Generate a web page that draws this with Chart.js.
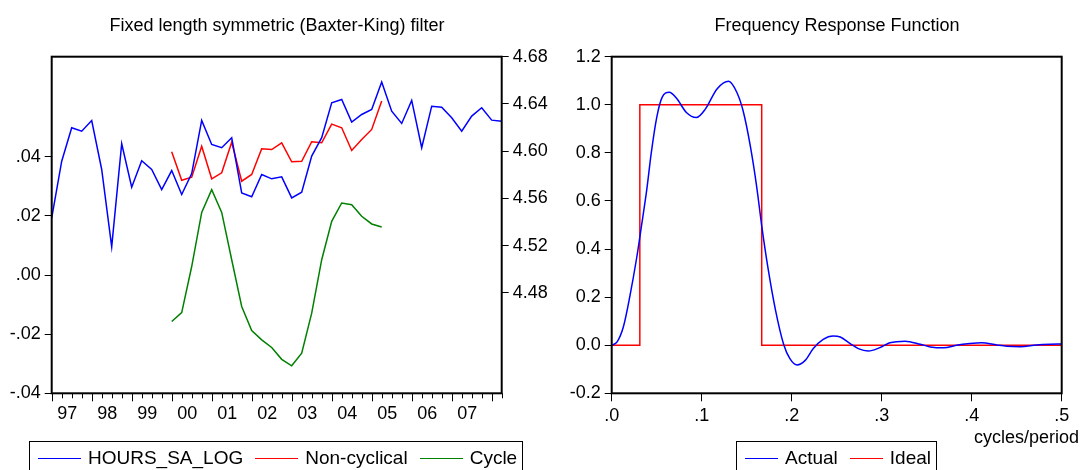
<!DOCTYPE html>
<html>
<head>
<meta charset="utf-8">
<script src="https://cdn.jsdelivr.net/npm/chart.js@4.4.1/dist/chart.umd.min.js"></script>
<style>
  html, body { margin: 0; padding: 0; background: #fff; }
  #page { position: relative; width: 1080px; height: 470px; overflow: hidden; font-family: "Liberation Sans", Arial, sans-serif; color: #000; }
  canvas { position: absolute; left: 0; top: 0; }
  .title { position: absolute; top: 15px; font-size: 18px; line-height: 20px; white-space: nowrap; transform: translateX(-50%); }
  .legend { position: absolute; top: 441px; height: 40px; box-sizing: border-box; border: 1px solid #000; padding: 5px 0 0 8px; font-size: 19px; line-height: 22px; white-space: nowrap; }
  .legend .swatch { display: inline-block; vertical-align: middle; border-top: 1.5px solid; height: 0; margin-right: 7px; }
  .legend .item + .item { margin-left: 12px; }
  #unit { position: absolute; right: 1px; top: 427px; font-size: 18px; line-height: 20px; white-space: nowrap; }
</style>
</head>
<body>
<div id="page">
  <canvas id="bkCanvas" width="1080" height="470"></canvas>
  <canvas id="frfCanvas" width="1080" height="470"></canvas>
  <div class="title" style="left:277px">Fixed length symmetric (Baxter-King) filter</div>
  <div class="title" style="left:837px">Frequency Response Function</div>
  <div class="legend" id="bkLegend" style="left:29px; width:494px"></div>
  <div class="legend" id="frfLegend" style="left:736px; width:201px"></div>
  <div id="unit">cycles/period</div>
</div>
<script>
// quarterly, 1997Q1 .. 2008Q2
const yearLabels = ["97", "98", "99", "00", "01", "02", "03", "04", "05", "06", "07"];
const hoursSaLog = [
  4.5436, 4.5915, 4.6198, 4.6169, 4.6260, 4.5845, 4.5190, 4.6063, 4.5695, 4.5919,
  4.5845, 4.5675, 4.5836, 4.5633, 4.5810, 4.6260, 4.6057, 4.6029, 4.6114, 4.5647,
  4.5614, 4.5803, 4.5766, 4.5783, 4.5605, 4.5653, 4.5958, 4.6114, 4.6410, 4.6438,
  4.6246, 4.6311, 4.6353, 4.6585, 4.6339, 4.6235, 4.6430, 4.6029, 4.6381, 4.6373,
  4.6283, 4.6169, 4.6297, 4.6368, 4.6263, 4.6254,
];
// filtered sample starts at 2000Q1
const filterStart = 12;
const nonCyclical = [
  4.5995, 4.5754, 4.5780, 4.6042, 4.5766, 4.5817, 4.6076, 4.5746, 4.5803, 4.6020,
  4.6014, 4.6070, 4.5910, 4.5915, 4.6080, 4.6071, 4.6229, 4.6198, 4.6006, 4.6099,
  4.6184, 4.6424,
];
const cycle = [
  -0.0157, -0.0127, 0.0029, 0.0212, 0.0289, 0.0212, 0.0052, -0.0106, -0.0188, -0.0219,
  -0.0245, -0.0285, -0.0307, -0.0264, -0.0129, 0.0052, 0.0182, 0.0244, 0.0238, 0.0199,
  0.0173, 0.0163,
];
const cycleTicks = [-0.04, -0.02, 0, 0.02, 0.04];
const levelTicks = [4.48, 4.52, 4.56, 4.60, 4.64, 4.68];

const freqActual = [
  0, 0.006, 0.013, 0.020, 0.028, 0.033, 0.039, 0.044, 0.050, 0.056,
  0.064, 0.072, 0.083, 0.094, 0.104, 0.117, 0.130, 0.139, 0.146, 0.154,
  0.161, 0.167, 0.174, 0.182, 0.191, 0.198, 0.206, 0.215, 0.224, 0.235,
  0.246, 0.254, 0.265, 0.274, 0.285, 0.298, 0.309, 0.326, 0.343, 0.354,
  0.369, 0.383, 0.398, 0.411, 0.428, 0.439, 0.454, 0.472, 0.487, 0.500,
];
const gainActual = [
  0, 0.014, 0.077, 0.200, 0.369, 0.494, 0.648, 0.801, 0.947, 1.031,
  1.052, 1.027, 0.968, 0.947, 0.982, 1.066, 1.098, 1.052, 0.975, 0.829,
  0.662, 0.488, 0.313, 0.146, 0.004, -0.056, -0.082, -0.063, -0.014, 0.024,
  0.038, 0.034, 0.007, -0.014, -0.024, -0.010, 0.010, 0.017, 0.004, -0.007,
  -0.011, 0.000, 0.007, 0.010, 0.001, -0.004, -0.006, 0.001, 0.004, 0.005,
];
const freqIdeal = [0, 1 / 32, 1 / 32, 1 / 6, 1 / 6, 0.5];
const gainIdeal = [0, 0, 1, 1, 0, 0];
const freqTicks = [0, 0.1, 0.2, 0.3, 0.4, 0.5];
const freqTickLabels = [".0", ".1", ".2", ".3", ".4", ".5"];
const gainTicks = [-0.2, 0, 0.2, 0.4, 0.6, 0.8, 1.0, 1.2];

const FONT = { family: "'Liberation Sans', Arial, sans-serif", size: 18 };
const BLUE = "#0000ff";
const RED = "#ff0000";
const GREEN = "#008000";

const frameBox = {
  id: "frameBox",
  afterDraw(chart) {
    const { ctx, chartArea: a } = chart;
    ctx.save();
    ctx.strokeStyle = "#000";
    ctx.lineWidth = 2;
    ctx.strokeRect(a.left, a.top, a.right - a.left, a.bottom - a.top);
    ctx.restore();
  },
};

// short ticks each quarter, longer ones at the start of each year
const quarterTicks = {
  id: "quarterTicks",
  afterDraw(chart) {
    const x = chart.scales.x;
    const ctx = chart.ctx;
    ctx.save();
    ctx.strokeStyle = "#000";
    ctx.lineWidth = 1;
    x.ticks.forEach((t) => {
      const px = Math.round(x.getPixelForValue(t.value)) + 0.5;
      const len = t.value % 4 === 0 ? 8 : 5;
      ctx.beginPath();
      ctx.moveTo(px, x.top);
      ctx.lineTo(px, x.top + len);
      ctx.stroke();
    });
    ctx.restore();
  },
};

function formatCycle(v) {
  const s = "." + String(Math.round(Math.abs(v) * 100)).padStart(2, "0");
  return v < 0 ? "-" + s : s;
}

const tickGrid = (len) => ({ drawOnChartArea: false, drawTicks: true, tickLength: len, tickColor: "#000", tickWidth: 1 });

const bkChart = new Chart(document.getElementById("bkCanvas"), {
  type: "line",
  data: {
    datasets: [
      { label: "HOURS_SA_LOG", data: hoursSaLog.map((v, i) => ({ x: i, y: v })), borderColor: BLUE, yAxisID: "y2" },
      { label: "Non-cyclical", data: nonCyclical.map((v, i) => ({ x: filterStart + i, y: v })), borderColor: RED, yAxisID: "y2" },
      { label: "Cycle", data: cycle.map((v, i) => ({ x: filterStart + i, y: v })), borderColor: GREEN, yAxisID: "y" },
    ],
  },
  options: {
    responsive: false,
    animation: false,
    devicePixelRatio: 1,
    layout: { padding: { top: 56.7, left: 0, right: 518.3, bottom: 0 } },
    elements: { point: { radius: 0 }, line: { borderWidth: 1.5, tension: 0 } },
    plugins: { legend: { display: false }, tooltip: { enabled: false } },
    scales: {
      x: {
        type: "linear",
        min: 0,
        max: hoursSaLog.length - 1,
        grid: { display: false, drawTicks: false },
        border: { display: false },
        afterBuildTicks: (s) => { s.ticks = hoursSaLog.map((_, i) => ({ value: i })); },
        afterFit: (s) => { s.height = 76.7; },
        ticks: {
          autoSkip: false, maxRotation: 0, minRotation: 0, labelOffset: 15.5, padding: 10,
          color: "#000", font: FONT,
          callback: (v) => (v % 4 === 0 ? yearLabels[v / 4] || "" : ""),
        },
      },
      y: {
        position: "left",
        min: -0.04,
        max: 0.0739,
        grid: tickGrid(7),
        border: { display: false },
        afterBuildTicks: (s) => { s.ticks = cycleTicks.map((v) => ({ value: v })); },
        afterFit: (s) => { s.width = 51.7; },
        ticks: { padding: 4, color: "#000", font: FONT, callback: (v) => formatCycle(v) },
      },
      y2: {
        position: "right",
        min: 4.395,
        max: 4.68,
        grid: tickGrid(7),
        border: { display: false },
        afterBuildTicks: (s) => { s.ticks = levelTicks.map((v) => ({ value: v })); },
        afterFit: (s) => { s.width = 60; },
        ticks: { padding: 4, color: "#000", font: FONT, callback: (v) => v.toFixed(2) },
      },
    },
  },
  plugins: [frameBox, quarterTicks],
});

const frfChart = new Chart(document.getElementById("frfCanvas"), {
  type: "line",
  data: {
    datasets: [
      { label: "Actual", data: freqActual.map((f, i) => ({ x: f, y: gainActual[i] })), borderColor: BLUE, cubicInterpolationMode: "monotone" },
      { label: "Ideal", data: freqIdeal.map((f, i) => ({ x: f, y: gainIdeal[i] })), borderColor: RED },
    ],
  },
  options: {
    responsive: false,
    animation: false,
    devicePixelRatio: 1,
    layout: { padding: { top: 56.7, left: 540, right: 18.3, bottom: 0 } },
    elements: { point: { radius: 0 }, line: { borderWidth: 1.5, tension: 0 } },
    plugins: { legend: { display: false }, tooltip: { enabled: false } },
    scales: {
      x: {
        type: "linear",
        min: 0,
        max: 0.5,
        grid: tickGrid(8),
        border: { display: false },
        afterBuildTicks: (s) => { s.ticks = freqTicks.map((v) => ({ value: v })); },
        afterFit: (s) => { s.height = 76.7; },
        ticks: {
          autoSkip: false, maxRotation: 0, minRotation: 0, padding: 4,
          color: "#000", font: FONT,
          callback: (v, i) => freqTickLabels[i],
        },
      },
      y: {
        position: "left",
        min: -0.2,
        max: 1.2,
        grid: tickGrid(7),
        border: { display: false },
        afterBuildTicks: (s) => { s.ticks = gainTicks.map((v) => ({ value: v })); },
        afterFit: (s) => { s.width = 71.7; },
        ticks: { padding: 4, color: "#000", font: FONT, callback: (v) => v.toFixed(1) },
      },
    },
  },
  plugins: [frameBox],
});

function buildLegend(el, chart, swatchWidth) {
  el.innerHTML = chart.data.datasets.map((ds) =>
    `<span class="item"><span class="swatch" style="width:${swatchWidth}px;border-top-color:${ds.borderColor}"></span>${ds.label}</span>`
  ).join("");
}

buildLegend(document.getElementById("bkLegend"), bkChart, 43);
buildLegend(document.getElementById("frfLegend"), frfChart, 33);
</script>
</body>
</html>
